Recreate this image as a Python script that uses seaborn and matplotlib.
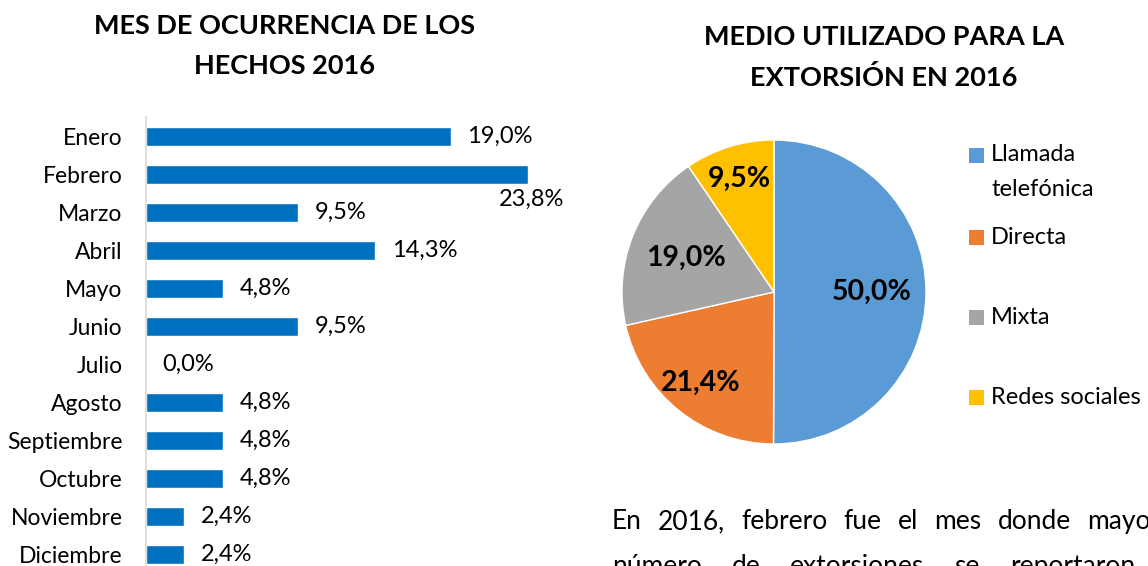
import numpy as np
import pandas as pd
import seaborn as sns
import matplotlib.pyplot as plt
from matplotlib.patches import Rectangle

# Data
months = ["Enero", "Febrero", "Marzo", "Abril", "Mayo", "Junio", "Julio",
          "Agosto", "Septiembre", "Octubre", "Noviembre", "Diciembre"]
month_pct = [19.0, 23.8, 9.5, 14.3, 4.8, 9.5, 0.0, 4.8, 4.8, 4.8, 2.4, 2.4]

medios = ["Llamada\ntelefónica", "Directa", "Mixta", "Redes sociales"]
medio_pct = [50.0, 21.4, 19.0, 9.5]
medio_colors = ["#5B9BD5", "#ED7D31", "#A5A5A5", "#FFC000"]

title_left = "MES DE OCURRENCIA DE LOS\nHECHOS 2016"
title_right = "MEDIO UTILIZADO PARA LA\nEXTORSIÓN EN 2016"
body_lines = ["En 2016, febrero fue el mes donde mayor",
              "número de extorsiones se reportaron."]

df = pd.DataFrame({"Mes": months, "Pct": month_pct})

sns.set_theme(style="white")
plt.rcParams["font.family"] = ["Lato", "DejaVu Sans"]
plt.rcParams["text.color"] = "black"

W, H = 1148, 566
fig = plt.figure(figsize=(W / 100, H / 100), dpi=100)


def fx(px):
    return px / W


def fy(py):
    return 1 - py / H


def fmt(v):
    return f"{v:.1f}".replace(".", ",") + "%"


# ---- bar chart ----
ax1 = fig.add_axes([fx(146), fy(573), 401 / W, 456 / H])
sns.barplot(data=df, x="Pct", y="Mes", orient="h", color="#0070C0",
            width=0.5, saturation=1, ax=ax1)
ax1.set_xlim(0, 25)
ax1.set_ylim(11.5, -0.5)
ax1.set_xlabel("")
ax1.set_ylabel("")
ax1.set_xticks([])
for s in ["top", "right", "bottom"]:
    ax1.spines[s].set_visible(False)
ax1.spines["left"].set_color("#D9D9D9")
ax1.spines["left"].set_linewidth(1.2)
ax1.tick_params(axis="y", length=0, pad=17, labelsize=16.5, labelcolor="black")

vmax = max(month_pct)
for i, v in enumerate(month_pct):
    if v == vmax:
        # Febrero's label does not fit at the bar end: put it below
        ax1.annotate(fmt(v), xy=(v, i), xytext=(26, -18), textcoords="offset points",
                     ha="right", va="center", fontsize=17)
    else:
        ax1.annotate(fmt(v), xy=(v, i), xytext=(12, 0), textcoords="offset points",
                     ha="left", va="center", fontsize=17)

fig.text(fx(284), fy(46.5), title_left, ha="center", va="center",
         fontsize=19.5, fontweight="bold", linespacing=1.8)

# ---- pie chart ----
ax2 = fig.add_axes([fx(622), fy(444), 304 / W, 304 / H])
wedges, _ = ax2.pie(medio_pct, colors=medio_colors, startangle=90, counterclock=False,
                    wedgeprops=dict(edgecolor="white", linewidth=1))
ax2.set_xlim(-1, 1)
ax2.set_ylim(-1, 1)
label_r = [0.645, 0.77, 0.62, 0.78]
for w, v, r in zip(wedges, medio_pct, label_r):
    ang = np.deg2rad((w.theta1 + w.theta2) / 2)
    ax2.text(r * np.cos(ang), r * np.sin(ang), fmt(v), ha="center", va="center",
             fontsize=20.5, fontweight="bold", color="black")

fig.text(fx(884), fy(57.5), title_right, ha="center", va="center",
         fontsize=19.5, fontweight="bold", linespacing=1.8)

# legend
leg_y = [172, 237, 317, 397]
for lab, c, y in zip(medios, medio_colors, leg_y):
    sq_y = 155 if "\n" in lab else y
    fig.patches.append(Rectangle((fx(969), fy(sq_y + 7.5)), 15 / W, 15 / H,
                                 transform=fig.transFigure, facecolor=c, edgecolor="none"))
    fig.text(fx(991), fy(y), lab, ha="left", va="center", fontsize=17,
             linespacing=1.8)


# ---- body text (justified) ----
def justify(line, x0, x1, ybase, size):
    words = line.split()
    texts = [fig.text(0, fy(ybase), w, fontsize=size, va="baseline") for w in words]
    rend = fig.canvas.get_renderer()
    widths = [t.get_window_extent(rend).width for t in texts]
    gap = (x1 - x0 - sum(widths)) / (len(words) - 1)
    x = x0
    for t, wd in zip(texts, widths):
        t.set_x(fx(x))
        x += wd + gap


justify(body_lines[0], 612, 1160, 529, 19)
justify(body_lines[1], 612, 1141, 574, 19)

fig.savefig("out.png", dpi=100)
